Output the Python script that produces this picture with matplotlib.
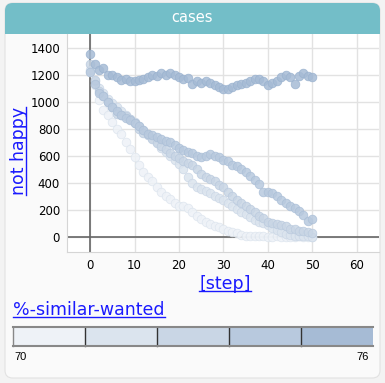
import matplotlib
matplotlib.use('Agg')
import matplotlib.pyplot as plt
from matplotlib.patches import FancyBboxPatch, Rectangle
from matplotlib.lines import Line2D

# Data: "not happy" count per step, one run per %-similar-wanted value
steps = list(range(51))
wanted = [70, 71.5, 73, 74.5, 76]
colors = ['#eef2f7', '#dbe4ee', '#c9d6e5', '#b8c9de', '#a6bbd5']
edges = ['#dde5ee', '#cbd7e6', '#bacade', '#abbfd7', '#9ab2cf']

s70 = [1220, 1120, 1010, 940, 900, 850, 800, 760, 700, 650, 590, 530, 480, 440, 410,
       370, 330, 300, 280, 250, 230, 225, 210, 185, 150, 130, 110, 95, 80, 70, 55,
       45, 35, 25, 15, 8, 5, 3, 2, 2, 1, 0, 2, 0, 1, 0, 0, 3, 0, 0, 0]
s71 = [1230, 1150, 1100, 1060, 1020, 990, 960, 930, 900, 870, 850, 820, 790, 760, 730,
       700, 660, 630, 600, 570, 540, 500, 440, 400, 370, 350, 335, 320, 300, 285, 270,
       250, 225, 205, 185, 165, 145, 125, 110, 100, 85, 65, 50, 35, 20, 12, 8, 5, 3, 2, 0]
s73 = [1280, 1160, 1080, 1040, 1000, 960, 910, 900, 890, 870, 840, 800, 770, 750, 720,
       690, 670, 650, 620, 600, 580, 560, 545, 530, 500, 466, 445, 427, 410, 385, 365,
       330, 300, 270, 250, 230, 205, 180, 155, 135, 110, 100, 95, 90, 80, 60, 55, 45, 40, 35, 25]
s74 = [1220, 1130, 1060, 1040, 1000, 960, 930, 900, 880, 860, 840, 820, 790, 760, 750,
       740, 720, 710, 700, 680, 660, 640, 630, 620, 600, 590, 600, 610, 600, 590, 570,
       560, 530, 520, 500, 480, 450, 420, 390, 330, 330, 320, 300, 270, 250, 230, 210,
       190, 160, 120, 133]
s76 = [1350, 1280, 1230, 1250, 1200, 1200, 1180, 1160, 1170, 1150, 1155, 1160, 1165, 1180,
       1195, 1190, 1215, 1195, 1215, 1200, 1180, 1165, 1175, 1130, 1155, 1135, 1150, 1135,
       1120, 1105, 1095, 1090, 1105, 1120, 1130, 1140, 1155, 1165, 1170, 1150, 1120, 1140,
       1150, 1180, 1200, 1180, 1130, 1190, 1210, 1190, 1185]
series = [s70, s71, s73, s74, s76]

W, H = 385, 383


def fx(px):
    return px / W


def fy(py):
    return 1 - py / H


fig = plt.figure(figsize=(W / 100, H / 100), dpi=100)
fig.patch.set_facecolor('#f3f3f3')

# card + header
card = FancyBboxPatch((fx(5), fy(378)), fx(375), 375 / H, boxstyle='round,pad=0,rounding_size=0.02',
                      transform=fig.transFigure, facecolor='#fafafa', edgecolor='#e2e2e2', lw=0.8)
fig.patches.append(card)
head = FancyBboxPatch((fx(5), fy(33)), fx(375), 30 / H, boxstyle='round,pad=0,rounding_size=0.02',
                      transform=fig.transFigure, facecolor='#73bec8', edgecolor='none')
fig.patches.append(head)
fig.patches.append(Rectangle((fx(5), fy(34)), fx(375), 14 / H, transform=fig.transFigure,
                             facecolor='#73bec8', edgecolor='none'))
fig.text(fx(192.5), fy(18), 'cases', color='white', fontsize=10.5, ha='center', va='center')

# plot
ax = fig.add_axes([fx(67), fy(252), fx(379 - 67), (252 - 34) / H])
ax.set_zorder(3)
ax.set_facecolor('white')
for s, c, e in zip(series, colors, edges):
    ax.plot(steps, s, 'o', color=c, markersize=6.2, markeredgecolor=e, markeredgewidth=0.6, alpha=0.85)

ax.set_xlim(-5.2, 65)
ax.set_ylim(-113, 1500)
ax.set_xticks(range(0, 61, 10))
ax.set_yticks(range(0, 1401, 200))
ax.grid(True, color='#e2e2e2', lw=1)
ax.set_axisbelow(True)
ax.axvline(0, color='#666666', lw=1.2, zorder=1.5)
ax.axhline(0, color='#666666', lw=1.2, zorder=1.5)
ax.tick_params(length=0, labelsize=8.5, pad=5)
for side in ['top', 'right']:
    ax.spines[side].set_visible(False)
for side in ['left', 'bottom']:
    ax.spines[side].set_color('#d5d5d5')

# labels (blue, underlined)
blue = '#1a1aff'
ylab = fig.text(fx(24), fy(151), 'not happy', color=blue, fontsize=12.5, rotation=90,
                ha='center', va='baseline', rotation_mode='anchor')
xlab = fig.text(fx(225), fy(289), '[step]', color=blue, fontsize=12.5, ha='center', va='baseline')
wlab = fig.text(fx(13), fy(315), '%-similar-wanted', color=blue, fontsize=12.5, ha='left', va='baseline')

fig.canvas.draw()
r = fig.canvas.get_renderer()
inv = fig.transFigure.inverted()
for t in [xlab, wlab]:
    bb = t.get_window_extent(r)
    y0 = t.get_transform().transform(t.get_position())[1] - 2
    (a, b), (c, d) = inv.transform([(bb.x0, y0), (bb.x1, y0)])
    fig.lines.append(Line2D([a, c], [b, d], color=blue, lw=1, transform=fig.transFigure))
bb = ylab.get_window_extent(r)
x0 = ylab.get_transform().transform(ylab.get_position())[0] + 2
(a, b), (c, d) = inv.transform([(x0, bb.y0), (x0, bb.y1)])
fig.lines.append(Line2D([a, c], [b, d], color=blue, lw=1, transform=fig.transFigure))

# color legend bar
seg_w = (373 - 13) / len(colors)
for i, c in enumerate(colors):
    fig.patches.append(Rectangle((fx(13 + i * seg_w), fy(346)), fx(seg_w), 19 / H,
                                 transform=fig.transFigure, facecolor=c, edgecolor='none'))
    if i > 0:
        fig.lines.append(Line2D([fx(13 + i * seg_w)] * 2, [fy(346), fy(327)], color='#333333',
                                lw=1, transform=fig.transFigure))
fig.lines.append(Line2D([fx(13), fx(373)], [fy(327)] * 2, color='#888888', lw=1.5, transform=fig.transFigure))
fig.lines.append(Line2D([fx(13), fx(373)], [fy(346)] * 2, color='#888888', lw=1.5, transform=fig.transFigure))
fig.lines.append(Line2D([fx(13)] * 2, [fy(346), fy(327)], color='#888888', lw=1, transform=fig.transFigure))
fig.text(fx(14), fy(357), str(wanted[0]), fontsize=8, family='Liberation Sans', ha='left', va='center')
fig.text(fx(369), fy(357), str(wanted[-1]), fontsize=8, family='Liberation Sans', ha='right', va='center')

fig.savefig('out.png', dpi=100, facecolor=fig.get_facecolor())
